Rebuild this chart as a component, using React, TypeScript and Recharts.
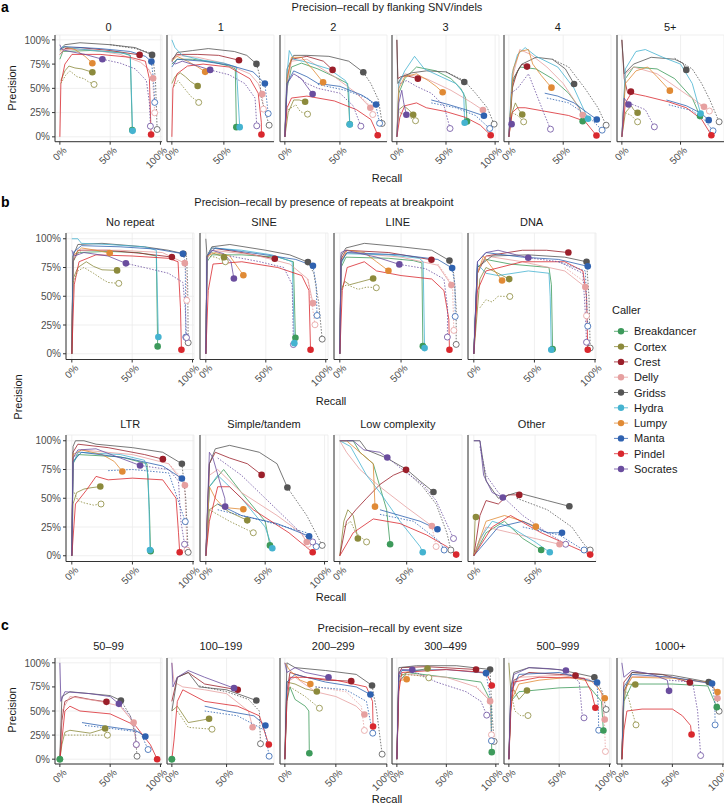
import React from 'react';
import { ComposedChart, Line, Scatter, XAxis, YAxis, CartesianGrid } from 'recharts';

type Pt = number[];
type Curve = [string, Pt[], Pt[]?];

const callers = ['Breakdancer', 'Cortex', 'Crest', 'Delly', 'Gridss', 'Hydra', 'Lumpy', 'Manta', 'Pindel', 'Socrates'];
const colors = ['#3d9a5b', '#8c8a3c', '#9b1f2a', '#e6a0a0', '#555555', '#45b3d0', '#e08a35', '#2f62b0', '#d9282e', '#6a4d9e'];

const aLabels = ['0', '1', '2', '3', '4', '5+'];
const bLabels = ['No repeat', 'SINE', 'LINE', 'DNA', 'LTR', 'Simple/tandem', 'Low complexity', 'Other'];
const cLabels = ['50–99', '100–199', '200–299', '300–499', '500–999', '1000+'];
const yTicks = [0, 0.25, 0.5, 0.75, 1];
const xTicks = [0, 0.5, 1];

// panel a: flanking SNV/indels (recall %, precision %)
const a0: Curve[] = [
  ['Breakdancer', [[0, 80], [3, 88], [30, 89], [60, 87], [70, 84], [72, 7]]],
  ['Cortex', [[1, 58], [5, 68], [9, 73], [15, 71], [22, 70], [32.3, 66.6]], [[1, 55], [6, 64], [10, 68], [17, 62], [24, 60], [28, 57], [34, 54]]],
  ['Crest', [[0, 85], [5, 91], [20, 92], [50, 89], [79.3, 84.5]]],
  ['Delly', [[0, 85], [5, 90], [30, 90], [60, 85], [80, 77], [88, 70], [92.7, 60.3]], [[88, 70], [92, 62], [94.3, 24.8]]],
  ['Gridss', [[0, 90], [5, 95], [20, 97], [50, 95], [75, 92], [91.7, 84.5]], [[50, 95], [75, 91], [92, 86], [95, 60], [96.7, 7.6]]],
  ['Hydra', [[0, 90], [3, 93], [15, 91], [45, 88], [65, 86], [70, 84], [72.3, 6.2]]],
  ['Lumpy', [[0, 88], [5, 93], [15, 90], [25, 83], [32.3, 75.9]]],
  ['Manta', [[0, 90], [5, 93], [40, 91], [70, 88], [85, 83], [91, 77.6]], [[91, 77.6], [93, 60], [94.3, 35.5]]],
  ['Pindel', [[0, 0], [1, 55], [5, 75], [12, 85], [40, 85], [70, 82], [85, 78], [89, 60], [90.7, 2.4]]],
  ['Socrates', [[0, 95], [2, 90], [10, 88], [25, 85], [42.3, 80]], [[42.3, 80], [60, 76], [75, 70], [86, 58], [89, 35], [90, 11]]],
];
const a1: Curve[] = [
  ['Breakdancer', [[0, 75], [5, 80], [20, 80], [40, 77], [55, 73], [61, 70], [62, 10]]],
  ['Cortex', [[0, 55], [3, 62], [8, 66], [13, 62], [18, 57], [24.8, 52.4]], [[2, 52], [6, 58], [12, 50], [18, 42], [25.8, 35.5]]],
  ['Crest', [[0, 80], [5, 85], [25, 85], [45, 84], [64.5, 79]]],
  ['Delly', [[0, 80], [5, 84], [25, 82], [50, 76], [75, 65], [83, 55], [86.8, 44]], [[86.8, 44], [88, 28.6]]],
  ['Gridss', [[0, 78], [5, 87], [20, 89], [35, 91], [60, 88], [72, 84], [81.3, 75.2]], [[81.3, 75.2], [84, 65], [86, 40], [93.5, 12]]],
  ['Hydra', [[0, 100], [3, 92], [10, 84], [30, 79], [50, 76], [62, 72], [65.2, 10]]],
  ['Lumpy', [[0, 78], [5, 83], [15, 78], [25, 72], [32, 67]]],
  ['Manta', [[0, 72], [5, 80], [30, 78], [55, 74], [78, 67], [89.4, 55]], [[89.4, 55], [92.6, 24]]],
  ['Pindel', [[0, 0], [1, 50], [5, 65], [15, 73], [30, 75], [55, 72], [75, 60], [83, 45], [86, 15], [86.1, 2.4]]],
  ['Socrates', [[0, 78], [3, 75], [10, 78], [25, 73], [36.8, 69]], [[36.8, 69], [55, 64], [70, 55], [80, 40], [81.6, 11.4]]],
];
const a2: Curve[] = [
  ['Breakdancer', [[0, 0], [2, 50], [6, 72], [15, 76], [30, 70], [45, 62], [57, 55], [58.9, 13]]],
  ['Cortex', [[0, 0], [3, 25], [8, 38], [13, 38], [18.4, 36.2]], [[3, 28], [10, 33], [14, 26], [20.6, 23.4]]],
  ['Crest', [[0, 0], [2, 60], [6, 80], [20, 83], [35, 78], [43.3, 69]]],
  ['Delly', [[0, 0], [2, 55], [6, 78], [20, 80], [45, 62], [65, 45], [77.6, 30]], [[65, 45], [75, 35], [79.8, 23]]],
  ['Gridss', [[0, 0], [2, 70], [8, 84], [20, 84], [40, 83], [58, 78], [71.2, 66.6]], [[71.2, 66.6], [78, 55], [85, 38], [88.3, 13.8]]],
  ['Hydra', [[0, 0], [2, 65], [4, 89], [8, 80], [20, 77], [40, 70], [55, 58], [58, 50], [58.9, 12.8]]],
  ['Lumpy', [[0, 0], [2, 60], [6, 82], [15, 82], [25, 70], [34.7, 56.2]]],
  ['Manta', [[0, 0], [2, 55], [8, 68], [20, 62], [30, 55], [50, 52], [70, 43], [82.8, 33.4]], [[30, 54], [55, 48], [75, 40], [83, 30], [86, 14]]],
  ['Pindel', [[0, 0], [2, 30], [6, 40], [20, 42], [45, 37], [65, 28], [78, 18], [82, 8], [84.3, 1.7]]],
  ['Socrates', [[0, 0], [2, 55], [8, 65], [15, 60], [20, 52], [25.2, 44.1]], [[12, 62], [20, 55], [30, 50], [50, 45], [62, 32], [69, 11]]],
];
const a3: Curve[] = [
  ['Breakdancer', [[0, 0], [2, 45], [8, 60], [20, 72], [40, 68], [55, 60], [65, 50], [70, 40], [71.4, 15.9]]],
  ['Cortex', [[0, 0], [2, 28], [7, 32], [12, 28], [16.6, 22.8]], [[3, 25], [10, 22], [19, 16.6]]],
  ['Crest', [[0, 100], [1, 60], [4, 62], [10, 63], [21.4, 60]]],
  ['Delly', [[0, 0], [2, 55], [8, 65], [30, 60], [55, 48], [75, 36], [87.6, 27.6]]],
  ['Gridss', [[0, 100], [1, 55], [5, 62], [15, 66], [30, 68], [50, 67], [68.6, 56.6]], [[50, 67], [68.6, 58], [80, 45], [92, 30], [99, 13.1]]],
  ['Hydra', [[0, 0], [2, 55], [8, 68], [18, 83], [28, 70], [45, 62], [60, 55], [68, 45], [69, 14.5]]],
  ['Lumpy', [[0, 0], [2, 50], [8, 62], [20, 65], [32, 58], [40, 52], [46.6, 45.9]]],
  ['Manta', [[35, 38], [50, 34], [70, 28], [88.6, 21.7]], [[35, 35], [60, 30], [80, 22], [94.5, 8.6]]],
  ['Pindel', [[0, 0], [3, 20], [8, 32], [20, 35], [30, 30], [50, 26], [70, 20], [85, 12], [95.5, 1.7]]],
  ['Socrates', [[0, 0], [2, 35], [5, 48], [7, 35], [9.7, 22.8]], [[3, 55], [10, 58], [20, 52], [35, 45], [48, 32], [54.1, 8.6]]],
];
const a4: Curve[] = [
  ['Breakdancer', [[0, 0], [3, 55], [10, 72], [25, 70], [40, 60], [55, 45], [65, 30], [67.9, 16.2]]],
  ['Cortex', [[0, 0], [3, 25], [6, 35], [9, 28], [12.3, 23.1]], [[3, 25], [8, 22], [13.6, 15.5]]],
  ['Crest', [[0, 0], [3, 50], [8, 68], [12, 75], [16.7, 72.4]]],
  ['Delly', [[0, 0], [3, 60], [10, 90], [20, 85], [35, 72], [50, 55], [60, 38], [67.9, 22.4]]],
  ['Gridss', [[0, 0], [4, 60], [12, 75], [25, 82], [40, 80], [52, 70], [60, 54.5]], [[40, 80], [55, 72], [70, 50], [82, 30], [89.5, 12]]],
  ['Hydra', [[0, 0], [3, 65], [8, 85], [15, 92], [25, 83], [45, 72], [60, 50], [72.8, 18.6]]],
  ['Lumpy', [[0, 0], [4, 70], [10, 88], [18, 90], [22, 75], [30, 63], [39.2, 50.7]]],
  ['Manta', [[33, 45], [45, 42], [60, 35], [72, 25], [80.9, 17.9]], [[35, 40], [55, 35], [72, 22], [85.8, 6.9]]],
  ['Pindel', [[0, 0], [3, 25], [8, 30], [15, 30], [30, 27], [55, 22], [70, 16], [80.6, 1.4]]],
  ['Socrates', [[0, 0], [1, 20], [2.5, 13.1]], [[2, 45], [8, 50], [18, 65], [25, 45], [32, 25], [38.3, 7.9]]],
];
const a5: Curve[] = [
  ['Breakdancer', [[0, 0], [3, 60], [10, 72], [30, 70], [45, 60], [60, 40], [66.6, 21.4]]],
  ['Cortex', [[0, 0], [3, 25], [8, 32], [10, 28], [13.4, 24.8]], [[3, 25], [8, 22], [13.4, 15.5]]],
  ['Crest', [[0, 100], [2, 60], [5, 45], [7.7, 46.6]]],
  ['Delly', [[0, 0], [3, 65], [10, 72], [30, 65], [50, 48], [62, 38], [70, 31]], [[62, 36], [74.6, 26.6]]],
  ['Gridss', [[0, 100], [2, 65], [10, 75], [25, 82], [45, 80], [52, 76], [54.9, 69]], [[45, 81], [60, 70], [68, 55], [75, 38], [82.9, 15.5]]],
  ['Hydra', [[0, 0], [3, 70], [12, 88], [20, 90], [35, 82], [50, 75], [60, 55], [67.1, 24.1]]],
  ['Lumpy', [[0, 0], [3, 55], [12, 68], [22, 72], [30, 62], [40.9, 47.6]]],
  ['Manta', [[38, 38], [55, 32], [68, 24], [74, 17.2]], [[40, 33], [60, 27], [70, 18], [77.7, 6.2]]],
  ['Pindel', [[0, 0], [3, 35], [8, 45], [20, 42], [40, 36], [55, 30], [68, 18], [76.3, 1.7]]],
  ['Socrates', [[0, 0], [2, 40], [5.7, 33.4]], [[4, 36], [12, 32], [20, 28], [27.7, 10.3]]],
];

// panel b: repeats at breakpoint
const b0: Curve[] = [
  ['Breakdancer', [[0, 0], [1, 80], [5, 88], [30, 89], [55, 88], [70, 85], [71.1, 6.4]]],
  ['Cortex', [[0, 0], [1, 65], [5, 75], [12, 80], [18, 76], [25, 73], [37.5, 72.5]], [[1, 62], [5, 72], [10, 75], [18, 70], [25, 65], [30, 62], [38.9, 61.2]]],
  ['Crest', [[0, 0], [1, 80], [5, 90], [30, 90], [60, 87], [82.9, 84.1]]],
  ['Delly', [[0, 0], [1, 82], [8, 90], [40, 90], [75, 88], [93.6, 78.8]], [[93.6, 78.8], [95, 65], [95.2, 46.4]]],
  ['Gridss', [[0, 0], [1, 85], [5, 95], [25, 96], [60, 93], [80, 90], [92.4, 87]], [[92.4, 87], [95, 85], [96, 60], [96.4, 9.6]]],
  ['Hydra', [[0, 100], [5, 100], [8, 96], [30, 95], [60, 93], [70, 90], [71.7, 14.5]]],
  ['Lumpy', [[0, 0], [1, 85], [8, 92], [20, 90], [31.4, 87.5]]],
  ['Manta', [[0, 0], [1, 88], [8, 94], [40, 93], [70, 91], [92, 87]], [[92, 87], [94, 80], [94.4, 14.5]]],
  ['Pindel', [[0, 0], [2, 60], [6, 80], [20, 86], [50, 85], [80, 83], [88, 80], [90, 40], [90.8, 3.5]]],
  ['Socrates', [[0, 90], [2, 85], [10, 88], [30, 85], [44.8, 78.6]], [[44.8, 78.6], [60, 75], [80, 70], [92, 62], [94, 40], [95, 14]]],
];
const b1: Curve[] = [
  ['Breakdancer', [[0, 0], [1, 80], [5, 86], [30, 86], [60, 84], [73, 80], [74.7, 13.9]]],
  ['Cortex', [[0, 0], [1, 85], [5, 88], [15.2, 84]], [[1, 85], [8, 84], [16.3, 80]]],
  ['Crest', [[0, 0], [1, 85], [5, 92], [30, 88], [57.5, 82.6]]],
  ['Delly', [[0, 0], [1, 82], [5, 90], [40, 86], [70, 78], [85, 65], [89.3, 44]], [[85, 65], [89, 40], [91, 25.2]]],
  ['Gridss', [[0, 100], [1, 85], [5, 93], [20, 95], [50, 90], [70, 86], [85.1, 79.7]], [[85.1, 79.7], [90, 70], [94, 45], [97, 12.7]]],
  ['Hydra', [[0, 0], [1, 85], [5, 92], [30, 90], [55, 86], [72, 80], [73.8, 9.2]]],
  ['Lumpy', [[0, 0], [1, 85], [8, 88], [20, 85], [31.3, 68.3]]],
  ['Manta', [[0, 0], [1, 85], [8, 92], [50, 86], [75, 82], [89.3, 76.5]], [[89.3, 76.5], [92, 60], [92.7, 33.3]]],
  ['Pindel', [[0, 0], [2, 55], [6, 78], [30, 80], [60, 75], [80, 68], [86, 55], [87.3, 3.5]]],
  ['Socrates', [[0, 0], [1, 85], [5, 90], [15, 87], [21, 80], [23.4, 65.5]], [[20, 85], [45, 80], [65, 75], [72, 60], [73, 8]]],
];
const b2: Curve[] = [
  ['Breakdancer', [[0, 0], [1, 75], [5, 84], [40, 83], [60, 81], [67, 79], [67.8, 6.6]]],
  ['Cortex', [[0, 0], [1, 55], [4, 63], [8, 60], [15, 62], [27.2, 65.5]], [[2, 58], [6, 60], [15, 56], [22, 58], [29.8, 57.4]]],
  ['Crest', [[0, 0], [1, 82], [5, 90], [40, 88], [74.8, 81.7]]],
  ['Delly', [[0, 0], [1, 80], [6, 88], [50, 84], [80, 77], [91.1, 59.7]], [[80, 78], [92, 60], [93.1, 20.3]]],
  ['Gridss', [[0, 0], [1, 85], [5, 92], [20, 96], [50, 93], [75, 90], [89.5, 81]], [[89.5, 81], [93, 70], [95, 40], [95, 8.1]]],
  ['Hydra', [[0, 0], [1, 78], [5, 87], [40, 86], [65, 83], [68, 80], [69.2, 4.9]]],
  ['Lumpy', [[0, 0], [1, 80], [6, 90], [20, 88], [30, 80], [39.7, 72.2]]],
  ['Manta', [[0, 0], [1, 80], [6, 88], [50, 86], [80, 82], [91.7, 74.5]], [[91.7, 74.5], [94, 60], [94.2, 32.4]]],
  ['Pindel', [[0, 0], [2, 55], [6, 75], [20, 80], [30, 72], [50, 68], [75, 65], [85, 55], [89, 30], [89.5, 3.5]]],
  ['Socrates', [[0, 0], [1, 88], [5, 90], [30, 84], [48.6, 77.7]], [[48.6, 77.7], [70, 74], [85, 65], [88, 40], [87.8, 14.5]]],
];
const b3: Curve[] = [
  ['Breakdancer', [[0, 0], [3, 75], [10, 82], [30, 78], [62, 75], [64, 60], [65, 4]]],
  ['Cortex', [[0, 0], [5, 65], [10, 75], [20, 70], [29.2, 64.9]], [[5, 40], [10, 47], [15, 45], [20, 50], [29.7, 49.8]]],
  ['Crest', [[0, 0], [3, 70], [10, 85], [40, 90], [60, 90], [78, 88]]],
  ['Delly', [[0, 0], [3, 72], [10, 85], [40, 80], [75, 72], [92, 58]], [[75, 75], [92, 62], [93, 33]]],
  ['Gridss', [[0, 0], [3, 75], [15, 85], [45, 86], [75, 84], [93, 80]], [[93, 80], [95, 50], [96, 5]]],
  ['Hydra', [[0, 0], [3, 78], [10, 70], [20, 68], [45, 72], [62, 70], [63, 50], [63.9, 3.5]]],
  ['Lumpy', [[0, 0], [3, 70], [8, 85], [15, 75], [23.3, 63.7]]],
  ['Manta', [[0, 0], [3, 80], [10, 88], [40, 84], [70, 82], [94, 76]], [[70, 80], [92, 72], [94, 24]]],
  ['Pindel', [[0, 0], [3, 55], [10, 72], [40, 80], [75, 80], [90, 72], [93, 50], [94, 3.5]]],
  ['Socrates', [[0, 0], [3, 80], [10, 88], [20, 90], [35, 86], [44.9, 83.5]], [[44.9, 83.5], [70, 80], [90, 70], [92, 35], [93, 10]]],
];
const b4: Curve[] = [
  ['Breakdancer', [[0, 0], [1, 80], [5, 88], [40, 86], [62, 80], [64, 40], [65, 4]]],
  ['Cortex', [[0, 0], [1, 45], [4, 55], [10, 58], [15, 59], [23.5, 60.2]], [[2, 55], [5, 48], [10, 46], [18, 44], [24.1, 45]]],
  ['Crest', [[0, 0], [1, 90], [5, 97], [30, 94], [60, 88], [75.1, 84]]],
  ['Delly', [[0, 0], [1, 85], [8, 92], [50, 88], [80, 80], [93.3, 61.3]], [[80, 80], [93, 65], [95, 5]]],
  ['Gridss', [[0, 0], [1, 95], [3, 100], [10, 100], [20, 97], [50, 94], [75, 90], [90.8, 80]], [[90.8, 80], [94, 50], [96, 3]]],
  ['Hydra', [[0, 0], [1, 80], [5, 90], [40, 88], [60, 83], [63, 70], [64.5, 5]]],
  ['Lumpy', [[0, 0], [1, 88], [8, 92], [25, 88], [35, 82], [41.7, 73.3]]],
  ['Manta', [[0, 0], [1, 82], [8, 90], [45, 85], [75, 78], [90.8, 67.2]], [[30, 74], [50, 75], [80, 72], [93.6, 29.7]]],
  ['Pindel', [[0, 0], [3, 45], [12, 57], [20, 69], [30, 66], [50, 67.5], [75, 66], [86, 50], [88, 20], [89, 3]]],
  ['Socrates', [[0, 0], [1, 85], [5, 92], [20, 93], [40, 85], [56.3, 78.5]], [[56.3, 78.5], [80, 75], [88, 65], [90, 30], [93, 10]]],
];
const b5: Curve[] = [
  ['Breakdancer', [[0, 0], [3, 60], [15, 75], [30, 55], [50, 30], [54, 9]]],
  ['Cortex', [[0, 0], [3, 40], [10, 45], [20, 38], [34.9, 30.8]], [[3, 40], [20, 30], [40, 20]]],
  ['Crest', [[0, 0], [3, 80], [8, 90], [20, 85], [35, 80], [47, 70.3]]],
  ['Delly', [[0, 0], [3, 70], [10, 75], [30, 55], [60, 35], [80, 20], [85, 12]], [[80, 20], [86, 10]]],
  ['Gridss', [[0, 0], [3, 80], [8, 93], [20, 96], [45, 90], [60, 80], [68.7, 59.3]], [[68.7, 59.3], [85, 35], [95, 15], [98, 9]]],
  ['Hydra', [[0, 0], [3, 60], [10, 70], [30, 50], [50, 25], [55, 10], [56, 6.5]]],
  ['Lumpy', [[0, 0], [3, 60], [8, 50], [15, 42], [31.6, 40.4]]],
  ['Manta', [[10, 45], [30, 35], [60, 28], [87, 17]], [[10, 40], [50, 30], [85, 20], [93, 8]]],
  ['Pindel', [[0, 0], [3, 30], [10, 60], [20, 60], [40, 40], [70, 20], [90, 3]]],
  ['Socrates', [[0, 0], [3, 90], [6, 85], [13, 60], [16, 50], [16.3, 42.7]], [[10, 85], [30, 70], [60, 40], [80, 20], [90, 12]]],
];
const b6: Curve[] = [
  ['Breakdancer', [[0, 100], [10, 100], [15, 90], [25, 80], [30, 60], [35, 40], [37.6, 10]]],
  ['Cortex', [[0, 0], [3, 30], [6, 40], [10, 35], [13.5, 15]], [[3, 25], [8, 30], [12, 20], [20, 12]]],
  ['Crest', [[0, 0], [5, 30], [12, 40], [20, 50], [30, 62], [40, 70], [49.5, 74.7]]],
  ['Delly', [[0, 100], [5, 90], [15, 75], [30, 60], [50, 42], [68.8, 25.9]], [[68.8, 25.9], [72, 8]]],
  ['Gridss', [[0, 100], [15, 100], [20, 92], [35, 85], [50, 75], [60, 65], [70, 55.5]], [[50, 73], [62, 60], [72, 45], [80, 20], [83, 5]]],
  ['Hydra', [[0, 100], [8, 95], [20, 70], [30, 55], [45, 30], [60, 8], [62, 3]]],
  ['Lumpy', [[0, 100], [5, 100], [15, 90], [25, 80], [26.3, 42.7]]],
  ['Manta', [[30, 40], [45, 35], [60, 30], [73, 23]], [[30, 36], [55, 30], [75, 12], [78, 5]]],
  ['Pindel', [[0, 0], [10, 20], [25, 32], [45, 28], [65, 18], [80, 8], [87, 1]]],
  ['Socrates', [[0, 100], [10, 100], [18, 92], [30, 90], [35.5, 85.5]], [[35.5, 85.5], [50, 72], [62, 62], [72, 48], [85, 15]]],
];
const b7: Curve[] = [
  ['Breakdancer', [[0, 0], [10, 20], [25, 30], [40, 15], [55, 5]]],
  ['Cortex', [[0, 0], [1, 30], [1.7, 33.7]]],
  ['Crest', [[0, 0], [5, 35], [10, 48], [20, 45], [28, 53], [37.1, 52.9]]],
  ['Delly', [[0, 0], [10, 25], [30, 20], [50, 15], [70, 10]]],
  ['Gridss', [[0, 100], [5, 100], [10, 65], [20, 50], [35, 55], [60, 48], [78, 43]], [[35, 50], [60, 40], [80, 25], [90, 10], [95, 5]]],
  ['Hydra', [[0, 0], [5, 15], [15, 30], [30, 25], [50, 12], [62, 3]]],
  ['Lumpy', [[0, 0], [10, 30], [25, 35], [40, 30], [50.6, 25.3]]],
  ['Manta', [[0, 0], [20, 25], [40, 30], [60, 20], [72, 20]], [[40, 25], [70, 18], [85, 8], [90, 5]]],
  ['Pindel', [[0, 0], [15, 25], [30, 35], [55, 20], [80, 8], [95, 1]]],
  ['Socrates', [[0, 100], [5, 100], [8, 70], [15, 55], [23.7, 50.6]], [[5, 95], [10, 70], [20, 55], [40, 35], [60, 20], [75, 10]]],
];

// panel c: event size
const c0: Curve[] = [
  ['Breakdancer', [[0, 0]]],
  ['Cortex', [[0, 0], [2, 15], [5, 28], [10, 30], [30, 27], [45, 31.8]], [[5, 25], [20, 25], [47.3, 24.9]]],
  ['Crest', [[0, 0], [2, 40], [5, 60], [15, 65], [30, 62], [46.3, 59.5]]],
  ['Delly', [[0, 0], [2, 50], [10, 65], [40, 60], [60, 55], [73.3, 38.1]], [[60, 55], [72, 40], [76, 15]]],
  ['Gridss', [[0, 0], [2, 65], [10, 70], [30, 68], [50, 66], [60.7, 60.9]], [[60.7, 60.9], [70, 45], [75, 25], [76.7, 3.1]]],
  ['Manta', [[22, 38], [40, 35], [60, 32], [75, 30], [85, 23.5]], [[25, 35], [50, 32], [80, 28], [87.7, 10]]],
  ['Pindel', [[0, 0], [2, 20], [5, 50], [10, 55], [20, 50], [50, 47], [75, 35], [90, 15], [96.7, 0]]],
  ['Socrates', [[0, 100], [1, 60], [5, 70], [30, 68], [50, 65], [58.7, 57.4]], [[58.7, 57.4], [70, 45], [75, 30], [76, 15.2]]],
];
const c1: Curve[] = [
  ['Breakdancer', [[0, 0]]],
  ['Cortex', [[0, 50], [5, 55], [15, 38], [25, 40], [34, 41.9]], [[5, 50], [15, 33], [36.7, 31.1]]],
  ['Crest', [[0, 60], [5, 85], [15, 90], [30, 78], [60.2, 72]]],
  ['Delly', [[0, 100], [2, 80], [10, 75], [30, 72], [50, 68], [70, 50], [73.8, 33.2]]],
  ['Gridss', [[0, 50], [5, 85], [15, 90], [25, 75], [50, 72], [77.2, 60.9]], [[25, 76], [50, 70], [70, 62], [80, 50], [81, 16]]],
  ['Manta', [[30, 55], [50, 50], [75, 45], [85.5, 34.9]], [[30, 50], [60, 45], [85, 30], [88.9, 3.1]]],
  ['Pindel', [[0, 0], [2, 20], [5, 60], [10, 72], [30, 60], [60, 55], [80, 45], [88.6, 15.2]]],
  ['Socrates', [[0, 100], [1, 75], [5, 85], [15, 92], [30, 85], [56.8, 73.7]]],
];
const c2: Curve[] = [
  ['Breakdancer', [[0, 0], [2, 60], [5, 75], [10, 62], [20, 55], [23.5, 50], [24, 6.2]]],
  ['Cortex', [[0, 0], [2, 80], [10, 78], [20, 73], [31.3, 70.2]], [[5, 75], [20, 65], [33.9, 52.9]]],
  ['Crest', [[0, 0], [2, 70], [5, 90], [20, 85], [40, 82], [65.1, 81]]],
  ['Delly', [[0, 0], [2, 80], [10, 85], [30, 70], [50, 65], [70, 55], [78, 46.4]], [[30, 75], [60, 70], [75, 55], [78, 29.8]]],
  ['Gridss', [[0, 0], [2, 100], [10, 95], [40, 92], [70, 88], [85.5, 76.5]], [[85.5, 76.5], [90, 50], [95.4, 5.2]]],
  ['Lumpy', [[0, 100], [5, 92], [15, 82], [25, 78]]],
  ['Manta', [[0, 0], [2, 80], [10, 88], [40, 80], [70, 75], [83.9, 67.1]], [[30, 75], [60, 72], [80, 60], [86.2, 27]]],
  ['Pindel', [[0, 0], [2, 60], [5, 85], [20, 85], [50, 82], [80, 75], [86, 60], [86.5, 33.9]]],
  ['Socrates', [[0, 100], [2, 90], [10, 95], [20, 90], [42.8, 85.1]]],
];
const c3: Curve[] = [
  ['Breakdancer', [[0, 0], [2, 80], [10, 90], [50, 85], [85, 80], [95, 60], [95.5, 30], [95.9, 7.3]]],
  ['Cortex', [[0, 0], [2, 85], [10, 90], [31, 94.1]], [[5, 88], [20, 87], [32.3, 84.4]]],
  ['Crest', [[0, 0], [2, 88], [5, 95], [30, 96], [80, 93.1]]],
  ['Delly', [[0, 0], [2, 80], [10, 88], [50, 85], [80, 75], [94.2, 60.2]], [[80, 76], [94, 62], [95.6, 25.3]]],
  ['Gridss', [[0, 0], [2, 95], [20, 97], [60, 97], [94.2, 93.1]], [[94.2, 93.1], [96, 50], [98.3, 18.4]]],
  ['Lumpy', [[0, 0], [2, 80], [5, 82], [9.9, 83]]],
  ['Manta', [[0, 0], [2, 85], [5, 92], [50, 93], [90.1, 89.3]], [[90.1, 89.3], [95, 60], [95.6, 19]]],
  ['Pindel', [[0, 0], [2, 70], [5, 90], [50, 93], [90, 90], [95, 80], [95.9, 76.5]]],
  ['Socrates', [[0, 0], [2, 90], [5, 93], [15.6, 92.7]], [[15.6, 92], [40, 80], [70, 70], [85, 60], [90.8, 45.7]]],
];
const c4: Curve[] = [
  ['Breakdancer', [[0, 0], [2, 60], [10, 70], [50, 74], [80, 75], [92, 60], [94, 29.8]]],
  ['Cortex', [[0, 100], [2, 70], [5, 72], [10, 62], [18, 71.3]], [[3, 65], [6, 50], [12, 45], [19, 45.3]]],
  ['Crest', [[0, 0], [2, 60], [5, 82], [20, 90], [50, 88], [66.3, 86.9]]],
  ['Delly', [[0, 0], [2, 70], [10, 85], [50, 87], [80, 83], [92, 70], [95.3, 41.2]], [[92, 70], [95, 40], [96, 8]]],
  ['Gridss', [[0, 0], [2, 75], [5, 90], [20, 95], [50, 93], [85, 85.1]], [[85, 85.1], [93, 70], [96.7, 51.6]]],
  ['Lumpy', [[0, 0], [2, 60], [10, 78], [30, 82], [60, 85], [85, 80], [95.3, 63.3]]],
  ['Manta', [[0, 0], [2, 70], [10, 88], [50, 90], [87.7, 79.6]], [[87.7, 79.6], [89, 50], [89.3, 30.1]]],
  ['Pindel', [[0, 0], [2, 50], [5, 80], [30, 85], [75, 84], [82, 70], [86, 53.3]]],
  ['Socrates', [[0, 0], [2, 70], [5, 88], [20, 95], [40, 94], [56.7, 92]], [[56.7, 92], [70, 80], [73, 45], [74.7, 42.9]]],
];
const c5: Curve[] = [
  ['Breakdancer', [[0, 0], [2, 60], [10, 78], [50, 78], [85, 76], [94, 54]]],
  ['Cortex', [[0, 0], [2, 60], [5, 78], [13.3, 77.5]], [[5, 70], [10, 50], [14, 35.6]]],
  ['Crest', [[0, 0], [2, 80], [10, 90], [40, 88], [67.3, 79.6]]],
  ['Delly', [[0, 0], [2, 70], [10, 86], [50, 85], [90, 78], [94.7, 63.3]]],
  ['Gridss', [[0, 0], [2, 70], [10, 90], [50, 87], [86, 80]], [[86, 80], [93, 70], [96.3, 49.8]]],
  ['Lumpy', [[0, 0], [2, 70], [10, 85], [50, 84], [85, 80], [94.7, 69.6]]],
  ['Manta', [[0, 0], [2, 75], [10, 88], [50, 85], [89.3, 78.5]], [[89.3, 78.5], [92, 60], [92.3, 35.6]]],
  ['Pindel', [[0, 0], [2, 30], [5, 50], [20, 52], [50, 52], [60, 45], [68, 35], [69, 25.6]]],
  ['Socrates', [[0, 100], [2, 85], [10, 92], [30, 88], [45, 82], [46.7, 70.9]], [[46.7, 82], [70, 80], [75, 50], [78, 3.8]]],
];

const aData = [a0, a1, a2, a3, a4, a5];
const bData = [b0, b1, b2, b3, b4, b5, b6, b7];
const cData = [c0, c1, c2, c3, c4, c5];

const FONT = '"Liberation Sans", Arial, Helvetica, sans-serif';
const XH = 30;
const pct = (v: number) => `${Math.round(v * 100)}%`;
const toPts = (p: Pt[]) => p.map(([x, y]) => ({ x: x / 100, y: y / 100 }));

const XTick = (props: any) => {
  const { x, y, payload } = props;
  return (
    <g transform={`translate(${x + 2},${y + 1})`}>
      <text transform="rotate(-45)" textAnchor="end" dy={7.5} fontSize={10} fill="#4d4d4d" fontFamily={FONT}>
        {pct(payload.value)}
      </text>
    </g>
  );
};

const FilledDot = (p: any) => <circle cx={p.cx} cy={p.cy} r={3.3} fill={p.payload.c} />;
const OpenDot = (p: any) => <circle cx={p.cx} cy={p.cy} r={3} fill="#fff" stroke={p.payload.c} strokeWidth={0.8} />;

function Facet({ curves, left, top, w, h, showY }: { curves: Curve[]; left: number; top: number; w: number; h: number; showY: boolean }) {
  const yW = showY ? 40 : 1;
  const xs = curves.flatMap((c) => [...c[1], ...(c[2] || [])].map((p) => p[0] / 100));
  const m = Math.max(...xs);
  const domain = [-0.05 * m, 1.05 * m];
  const ticks = xTicks.filter((t) => t <= domain[1]);
  const filled: any[] = [];
  const open: any[] = [];
  curves.forEach(([name, s, d]) => {
    const c = colors[callers.indexOf(name)];
    const ls = s[s.length - 1];
    filled.push({ x: ls[0] / 100, y: ls[1] / 100, c });
    if (d) {
      const ld = d[d.length - 1];
      open.push({ x: ld[0] / 100, y: ld[1] / 100, c });
    }
  });
  return (
    <div style={{ position: 'absolute', left: left - yW, top }}>
      <ComposedChart width={w + yW} height={h + XH} margin={{ top: 0, right: 0, bottom: 0, left: 0 }} style={{ overflow: 'visible' }}>
        <CartesianGrid stroke="#ebebeb" strokeWidth={0.8} />
        <XAxis
          type="number"
          dataKey="x"
          domain={domain}
          ticks={ticks}
          allowDataOverflow
          interval={0}
          height={XH}
          tick={<XTick />}
          tickSize={3}
          tickMargin={0}
          tickLine={{ stroke: '#333' }}
          axisLine={{ stroke: '#333' }}
        />
        <YAxis
          type="number"
          dataKey="y"
          domain={[-0.05, 1.05]}
          ticks={yTicks}
          allowDataOverflow
          width={yW}
          tickFormatter={pct}
          tick={showY ? { fontSize: 10, fill: '#4d4d4d', fontFamily: FONT } : false}
          tickSize={3}
          tickMargin={2}
          tickLine={showY ? { stroke: '#333' } : false}
          axisLine={{ stroke: '#333' }}
        />
        {curves.map(([name, s]) => (
          <Line
            key={name + 's'}
            data={toPts(s)}
            dataKey="y"
            type="linear"
            stroke={colors[callers.indexOf(name)]}
            strokeWidth={0.8}
            dot={false}
            activeDot={false}
            isAnimationActive={false}
          />
        ))}
        {curves
          .filter((c) => c[2])
          .map(([name, , d]) => (
            <Line
              key={name + 'd'}
              data={toPts(d as Pt[])}
              dataKey="y"
              type="linear"
              stroke={colors[callers.indexOf(name)]}
              strokeWidth={0.8}
              strokeDasharray="1.5 1.5"
              dot={false}
              activeDot={false}
              isAnimationActive={false}
            />
          ))}
        <Scatter data={open} dataKey="y" shape={<OpenDot />} isAnimationActive={false} />
        <Scatter data={filled} dataKey="y" shape={<FilledDot />} isAnimationActive={false} />
      </ComposedChart>
    </div>
  );
}

const aLeft = (i: number) => 55 + 112.35 * i;
const bLeft = (i: number) => 66.2 + 133.8 * (i % 4);

export default function App() {
  const t = (x: number, y: number, s: string, extra: any = {}) => (
    <text x={x} y={y} textAnchor="middle" fontSize={11} fill="#1a1a1a" fontFamily={FONT} {...extra}>
      {s}
    </text>
  );
  return (
    <div style={{ position: 'absolute', left: 0, top: 0, width: 724, height: 808, background: '#fff', fontFamily: FONT }}>
      <style>{'.recharts-surface{overflow:visible}.recharts-wrapper{overflow:visible}'}</style>
      <svg width={724} height={808} style={{ position: 'absolute', left: 0, top: 0 }}>
        <text x={1} y={12} fontSize={14} fontWeight="bold" fontFamily={FONT}>a</text>
        <text x={1} y={207} fontSize={14} fontWeight="bold" fontFamily={FONT}>b</text>
        <text x={1} y={630} fontSize={14} fontWeight="bold" fontFamily={FONT}>c</text>
        {t(387, 11, 'Precision–recall by flanking SNV/indels')}
        {t(324, 206, 'Precision–recall by presence of repeats at breakpoint')}
        {t(390, 632, 'Precision–recall by event size')}
        {aLabels.map((l, i) => t(aLeft(i) + 53.5, 31, l, { key: 'a' + i }))}
        {bLabels.map((l, i) => t(bLeft(i) + 64, i < 4 ? 226 : 428, l, { key: 'b' + i }))}
        {cLabels.map((l, i) => t(aLeft(i) + 53.5, 650, l, { key: 'c' + i }))}
        {t(387, 182, 'Recall')}
        {t(331, 405, 'Recall')}
        {t(331, 601, 'Recall')}
        {t(387, 803, 'Recall')}
        {t(0, 0, 'Precision', { transform: 'translate(16,88) rotate(-90)' })}
        {t(0, 0, 'Precision', { transform: 'translate(22,397) rotate(-90)' })}
        {t(0, 0, 'Precision', { transform: 'translate(16,710) rotate(-90)' })}
        <text x={612} y={314} fontSize={11} fill="#1a1a1a" fontFamily={FONT}>Caller</text>
        {callers.map((c, i) => (
          <g key={c} transform={`translate(0,${331.3 + 15.3 * i})`}>
            <line x1={614} x2={628} y1={0} y2={0} stroke={colors[i]} strokeWidth={0.8} />
            <circle cx={621} cy={0} r={3.2} fill={colors[i]} />
            <text x={634} y={4} fontSize={11} fill="#1a1a1a" fontFamily={FONT}>{c}</text>
          </g>
        ))}
      </svg>
      {aData.map((d, i) => (
        <Facet key={'fa' + i} curves={d} left={aLeft(i)} top={35.3} w={107} h={106.7} showY={i === 0} />
      ))}
      {bData.map((d, i) => (
        <Facet key={'fb' + i} curves={d} left={bLeft(i)} top={i < 4 ? 232.55 : 435.25} w={128} h={126.5} showY={i % 4 === 0} />
      ))}
      {cData.map((d, i) => (
        <Facet key={'fc' + i} curves={d} left={aLeft(i)} top={657.5} w={107} h={106} showY={i === 0} />
      ))}
    </div>
  );
}
